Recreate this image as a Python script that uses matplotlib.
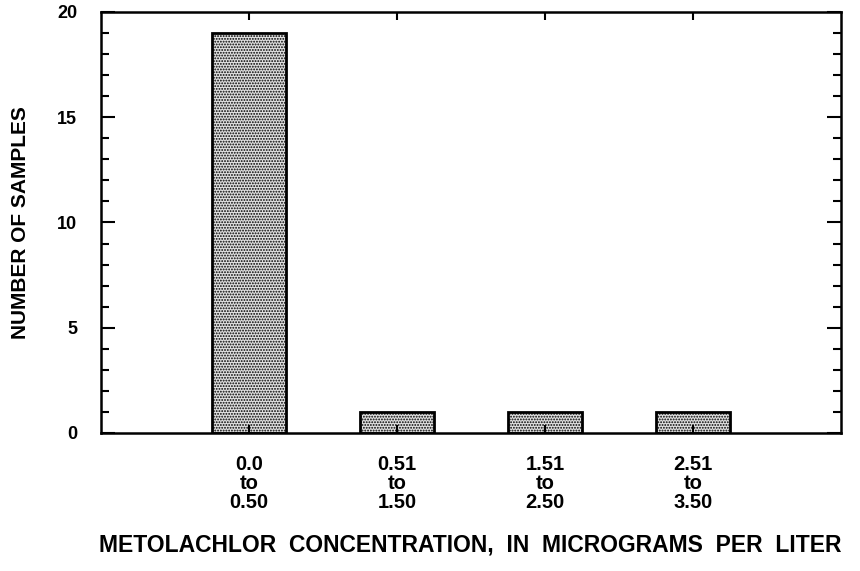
import matplotlib.pyplot as plt
from matplotlib.ticker import MultipleLocator

# sample counts per concentration class
classes = ['0.0\nto\n0.50', '0.51\nto\n1.50', '1.51\nto\n2.50', '2.51\nto\n3.50']
counts = [19, 1, 1, 1]

plt.rcParams['font.family'] = ['Liberation Sans', 'DejaVu Sans']
plt.rcParams['hatch.color'] = '#505050'
plt.rcParams['hatch.linewidth'] = 0.9

fig = plt.figure(figsize=(8.6, 5.71), dpi=100)
ax = fig.add_axes([0.1174, 0.2417, 0.8605, 0.7373])

pos = list(range(1, len(classes) + 1))
ax.bar(pos, counts, width=0.5, facecolor='#e0e0e0', edgecolor='black',
       linewidth=2, hatch='......')

ax.set_xlim(0, 5)
ax.set_ylim(0, 20)
ax.set_xticks(pos)
ax.set_xticklabels(classes, fontsize=14.5, fontweight='bold', linespacing=1.0)
ax.yaxis.set_major_locator(MultipleLocator(5))
ax.yaxis.set_minor_locator(MultipleLocator(1))
ax.tick_params(axis='both', which='both', direction='in', width=1.5,
               top=True, right=True)
ax.tick_params(axis='y', which='major', length=10, labelsize=13, pad=17)
ax.tick_params(axis='y', which='minor', length=6)
ax.tick_params(axis='x', which='major', length=6, pad=16)
for t in ax.get_yticklabels():
    t.set_fontweight('bold')
for s in ax.spines.values():
    s.set_linewidth(1.8)

ax.set_ylabel('NUMBER OF SAMPLES', fontsize=15, fontweight='bold')
ax.yaxis.set_label_coords(-0.096, 0.5)
fig.text(0.547, 0.045,
         'METOLACHLOR  CONCENTRATION,  IN  MICROGRAMS  PER  LITER',
         ha='center', va='center', fontsize=16.5, fontweight='bold')

fig.savefig('out.png', dpi=100)
